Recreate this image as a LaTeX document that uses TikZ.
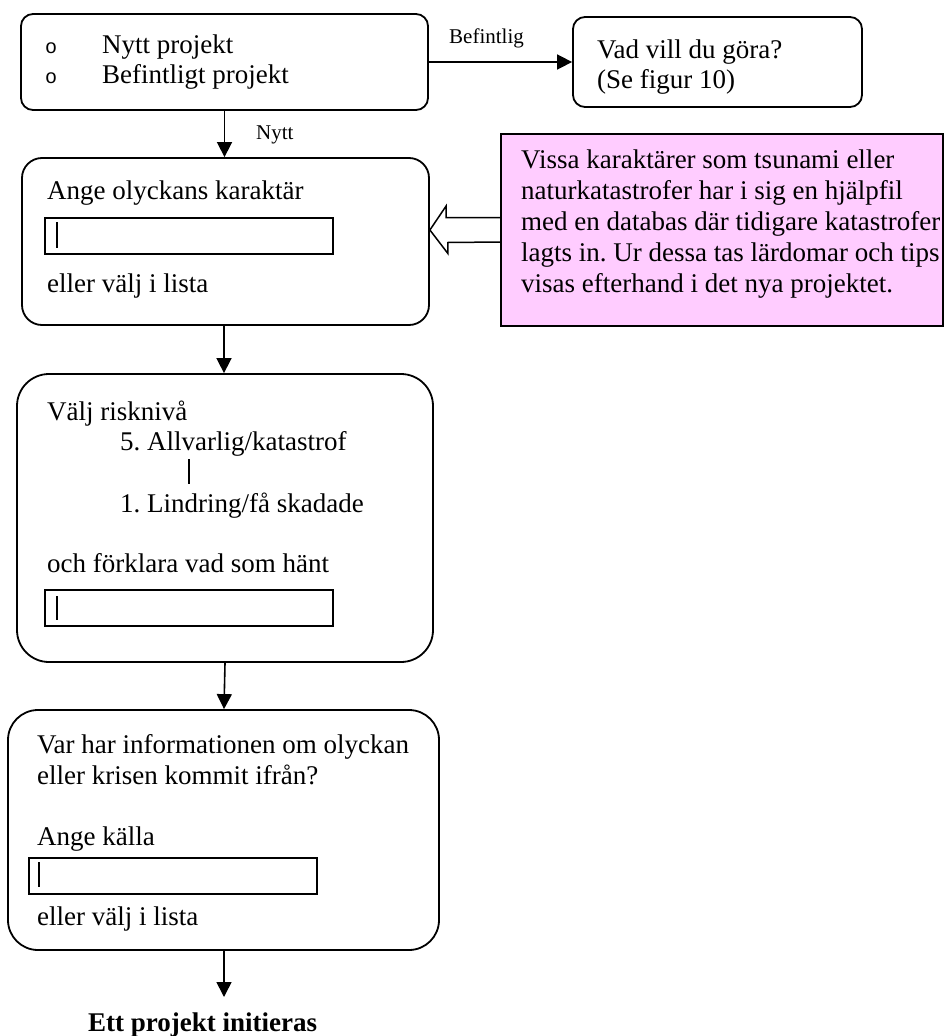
\documentclass[tikz,border=0pt]{standalone}
\usepackage{fontspec}
\setmainfont{Liberation Serif}
\newfontfamily\bulletfont{Liberation Mono}
\usetikzlibrary{arrows.meta,calc}
\definecolor{notepink}{HTML}{FFCCFF}
\frenchspacing
\begin{document}
\begin{tikzpicture}[x=1pt,y=-1pt,
  box/.style={draw,line width=1.8pt,rounded corners=#1,inner sep=0pt,rectangle},
  field/.style={draw,line width=1.8pt,inner sep=0pt,rectangle,minimum width=288pt,minimum height=36pt},
  txt/.style={anchor=base west,inner sep=0pt,font=\fontsize{27}{32}\selectfont\frenchspacing},
  small/.style={anchor=base west,inner sep=0pt,font=\fontsize{21}{25}\selectfont},
  bullet/.style={anchor=base west,inner sep=0pt,font=\bulletfont\fontsize{20}{22}\selectfont},
  arr/.style={line width=1.6pt,-{Triangle[length=15pt,width=15pt]}},
  caret/.style={line width=1.6pt},
  hollow/.style={line width=1.5pt,line join=miter}
]
\useasboundingbox (0,0) rectangle (944,1036);

% boxes
\node[box=12pt,minimum width=407pt,minimum height=96pt] (b1) at (224.5,62) {};
\node[box=12pt,minimum width=289pt,minimum height=90pt] (b2) at (717.5,62) {};
\node[draw,line width=1.8pt,fill=notepink,inner sep=0pt,minimum width=442pt,minimum height=192pt] (pink) at (722,230) {};
\node[box=20pt,minimum width=407pt,minimum height=167pt] (b3) at (225.5,241.5) {};
\node[box=32pt,minimum width=416pt,minimum height=288pt] (b4) at (225,518) {};
\node[box=30pt,minimum width=431pt,minimum height=240pt] (b5) at (223.5,830) {};

% box 1
\node[bullet] (o1) at (45,53) {o};
\node[bullet] (o2) at (45,83) {o};
\node[txt] (t1a) at (102,53) {Nytt projekt};
\node[txt] (t1b) at (102,83) {Befintligt projekt};

% box 2
\node[txt] (t2a) at (597,58) {Vad vill du göra?};
\node[txt] (t2b) at (597,88) {(Se figur 10)};

% labels
\node[small] (lbef) at (449,43) {Befintlig};
\node[small] (lnytt) at (256,139) {Nytt};

% box 3
\node[txt] (t3a) at (47,199) {Ange olyckans karaktär};
\node[field] (f3) at (189,236) {};
\draw[caret] (57,222) -- (57,248);
\node[txt] (t3b) at (47,292) {eller välj i lista};

% pink note
\node[txt] (p1) at (521,168) {Vissa karaktärer som tsunami eller};
\node[txt] (p2) at (521,199) {naturkatastrofer har i sig en hjälpfil};
\node[txt] (p3) at (521,230) {med en databas där tidigare katastrofer};
\node[txt] (p4) at (521,261) {lagts in. Ur dessa tas lärdomar och tips};
\node[txt] (p5) at (521,292) {visas efterhand i det nya projektet.};

% box 4
\node[txt] (t4a) at (47,420) {Välj risknivå};
\node[txt] (t4b) at (120,450) {5. Allvarlig/katastrof};
\draw[caret] (189,459) -- (189,484);
\node[txt] (t4c) at (120,512) {1. Lindring/få skadade};
\node[txt] (t4d) at (47,572) {och förklara vad som hänt};
\node[field] (f4) at (189,608) {};
\draw[caret] (57,596) -- (57,620);

% box 5
\node[txt] (t5a) at (37,753) {Var har informationen om olyckan};
\node[txt] (t5b) at (37,784) {eller krisen kommit ifrån?};
\node[txt] (t5c) at (37,845) {Ange källa};
\node[field] (f5) at (173,876) {};
\draw[caret] (39,862) -- (39,887);
\node[txt] (t5d) at (37,925) {eller välj i lista};

% end
\node[txt,font=\bfseries\fontsize{27}{32}\selectfont] (end) at (88,1031) {Ett projekt initieras};
\coordinate (endtop) at (224,997);

% connectors
\draw[arr] (b1.east) -- (b2.west);
\draw[arr] (b1.south) -- (b1.south |- b3.north);
\draw[arr] (b3.south -| 224,0) -- (b4.north -| 224,0);
\draw[arr] (b4.south -| 225,0) -- (b5.north -| 224,0);
\draw[arr] (b5.south -| endtop) -- (endtop);

% hollow arrow from note to box 3
\draw[hollow] ($(pink.west)+(0,-12.5)$) -- ++(-54,0) -- ++(0,-11.5)
  -- (b3.east |- pink.west) -- ++(18,23.5) -- ++(0,-11) -- ($(pink.west)+(0,12)$);
\end{tikzpicture}
\end{document}
